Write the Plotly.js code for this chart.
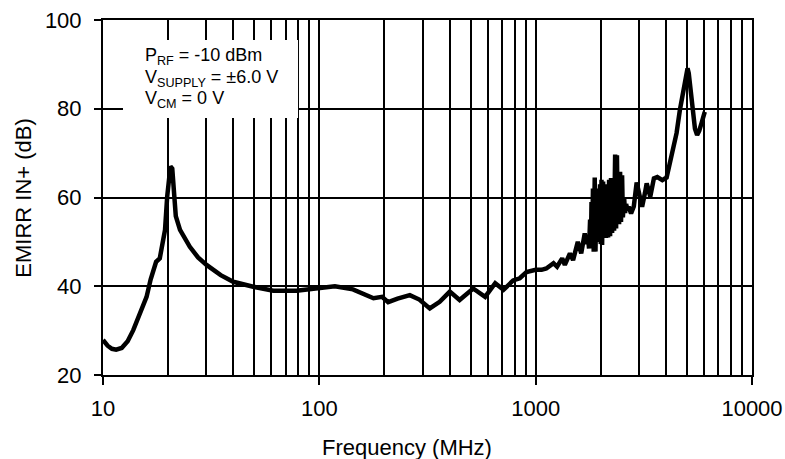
<!DOCTYPE html>
<html><head><meta charset="utf-8">
<script src="https://cdn.plot.ly/plotly-3.0.1.min.js"></script>
<style>html,body{margin:0;padding:0;background:#fff}#chart{width:785px;height:459px}</style>
</head><body><div id="chart"></div>
<script>
// Frequency (MHz)
const freqMHz = [10,10.5,11.0,11.5,12.2,13.0,13.8,14.8,15.9,16.6,17.1,17.6,18.3,18.9,19.35,19.8,20.2,20.5,20.9,21.3,21.7,22.7,24.0,25.2,27.5,30.1,35,40,49.5,61.3,78.4,100.5,118,143,160,178,195,208,230,262,290,324,360,401,445,514,584,650,710,787,844,907,1000,1065,1120,1209,1256,1326,1364,1440,1489,1566,1624,1686,1720,1747,1765,1785,1800,1812,1823,1840,1855,1875,1890,1910,1925,1944,1960,1985,2000,2015,2028,2050,2072,2095,2116,2140,2162,2185,2208,2230,2256,2280,2304,2330,2354,2375,2395,2410,2430,2456,2480,2509,2530,2563,2590,2618,2650,2690,2760,2842,2930,2996,3104,3200,3260,3387,3520,3650,3850,4030,4175,4330,4480,4640,4805,4950,5035,5100,5160,5250,5344,5450,5576,5700,5840,5950,6048];
// EMIRR IN+ (dB)
const emirrDb = [27.9,26.6,25.9,25.7,26.1,27.6,30.1,33.6,37.6,41.5,44.0,45.5,46.3,49.5,52.7,60.2,66.0,67.0,66.5,60.0,55.8,52.7,50.5,48.9,46.5,44.8,42.5,41.0,39.9,39.0,39.0,39.5,40.0,39.3,38.3,37.3,37.6,36.4,37.2,38.0,37.0,35.0,36.5,38.8,36.9,39.5,37.6,40.7,39.2,41.3,41.8,43.2,43.7,43.7,44.0,45.2,44.4,46.3,44.8,47.4,45.9,50.0,47.4,51.9,49.5,51.0,48.5,55,49,59,48.5,62,47.8,64.5,47.8,62,50.5,60,50,63,49.5,64,49.3,63.6,51,62,50.9,63,51,64,51.3,64.4,52,63,52.5,69.7,53,69.5,54,65.8,54,65.8,54.5,65,55.5,60,56.5,58.5,57.5,57.9,56.4,58,63.4,61,57.9,61,63.2,60.2,64.3,64.6,63.9,64.5,67.7,71,74.5,79.7,84.2,88,89.1,88,85.7,81,78.2,75.5,74.1,75,76.7,78.5,79.3];

const xTickVals = [10,100,1000,10000];
const xTickText = ['10','100','1000','10000'];
const yTickVals = [20,40,60,80,100];
const yTickText = ['20','40','60','80','100'];
const decades = [10,100,1000];
const minorMultipliers = [2,3,4,5,6,7,8,9];
const legendLines = ['P<sub>RF</sub> = -10 dBm','V<sub>SUPPLY</sub> = ±6.0 V','V<sub>CM</sub> = 0 V'];
const xTitle = 'Frequency (MHz)';
const yTitle = 'EMIRR IN+ (dB)';

const minorVals = [];
decades.forEach(d => minorMultipliers.forEach(m => minorVals.push(d*m)));

const FONT = 'Liberation Sans, Arial, Helvetica, sans-serif';

const trace = {
  x: freqMHz, y: emirrDb, type: 'scatter', mode: 'lines',
  line: {color: '#000', width: 4.5, shape: 'linear'},
  hoverinfo: 'skip'
};

const legendY = [0.897, 0.835, 0.776];
const annotations = legendLines.map((t, i) => ({
  text: t, xref: 'paper', yref: 'paper', x: 0.0616, y: legendY[i],
  xanchor: 'left', yanchor: 'middle', showarrow: false,
  font: {family: FONT, size: 18, color: '#000'}
}));
annotations.push({
  text: xTitle, xref: 'paper', yref: 'paper', x: 0.469, y: -0.203,
  xanchor: 'center', yanchor: 'middle', showarrow: false,
  font: {family: FONT, size: 22, color: '#000'}
});
annotations.push({
  text: yTitle, xref: 'paper', yref: 'paper', x: -0.123, y: 0.5,
  xanchor: 'center', yanchor: 'middle', showarrow: false, textangle: -90,
  font: {family: FONT, size: 22, color: '#000'}
});

const layout = {
  width: 785, height: 459,
  margin: {l: 103, r: 33, t: 20, b: 84},
  paper_bgcolor: '#fff', plot_bgcolor: '#fff',
  showlegend: false,
  font: {family: FONT, color: '#000'},
  xaxis: {
    type: 'log', range: [1, 4],
    tickmode: 'array', tickvals: xTickVals, ticktext: xTickText,
    ticks: 'outside', ticklen: 8, tickwidth: 2, tickcolor: '#000',
    tickfont: {family: FONT, size: 22, color: '#000'},
    ticklabelstandoff: 5,
    showgrid: true, gridcolor: '#000', gridwidth: 2,
    showline: true, linecolor: '#000', linewidth: 2, mirror: true,
    zeroline: false,
    minor: {tickmode: 'array', tickvals: minorVals, showgrid: true, gridcolor: '#000', gridwidth: 2, ticks: ''}
  },
  yaxis: {
    range: [20, 100],
    tickmode: 'array', tickvals: yTickVals, ticktext: yTickText,
    ticks: 'outside', ticklen: 7, tickwidth: 2, tickcolor: '#000',
    tickfont: {family: FONT, size: 22, color: '#000'},
    ticklabelstandoff: 8,
    showgrid: true, gridcolor: '#000', gridwidth: 2,
    showline: true, linecolor: '#000', linewidth: 2, mirror: true,
    zeroline: false
  },
  shapes: [{
    type: 'rect', xref: 'paper', yref: 'paper',
    x0: 0.0308, x1: 0.3005, y0: 0.7239, y1: 0.9437,
    fillcolor: '#fff', line: {width: 0}, layer: 'above'
  }],
  annotations: annotations
};

Plotly.newPlot('chart', [trace], layout, {staticPlot: true, displayModeBar: false});
</script>
</body></html>
